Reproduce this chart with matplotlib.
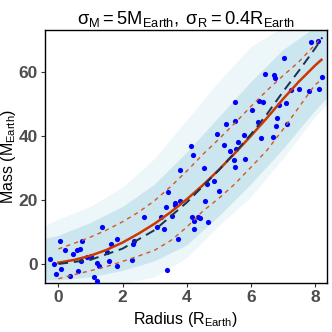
import matplotlib
matplotlib.use("Agg")
import matplotlib.pyplot as plt

plt.rcParams['font.family'] = ['Liberation Sans', 'DejaVu Sans']
plt.rcParams['mathtext.fontset'] = 'custom'
plt.rcParams['mathtext.rm'] = 'Liberation Sans'
plt.rcParams['mathtext.it'] = 'Liberation Sans:italic'
plt.rcParams['mathtext.bf'] = 'Liberation Sans:bold'

# observed planets (radius, mass)
obs_radius = [0.05, 0.74, 1.83, 1.63, 2.35, 2.33, 0.20, 0.57, 0.68, 0.45, 1.51, 0.88,
              1.01, 0.71, -0.27, -0.14, 1.59, 1.19, 1.26, 1.83, 2.28, 0.08, 0.62, -0.08,
              0.37, 1.10, 1.20, 1.37,
              3.78, 4.55, 4.86, 4.63, 5.02, 3.42, 4.56, 3.78, 3.63, 3.64, 3.35, 2.66,
              3.19, 3.55, 4.16, 4.35, 4.41, 4.23, 4.67, 3.07, 3.30, 4.23, 3.74, 3.40,
              5.24, 4.93, 4.14, 5.16, 4.21, 5.35,
              7.87, 8.08, 7.04, 6.43, 6.71, 6.76, 8.23, 7.26, 7.50, 7.80, 8.14, 5.52,
              6.24, 6.37, 6.88, 7.11, 6.03, 5.50, 6.21, 6.82, 6.77, 7.14, 5.80, 6.31,
              6.69, 5.60, 5.54,
              5.46, 5.83, 5.50]
obs_mass = [7.2, 7.2, 7.9, 6.3, 7.1, 6.3, 4.4, 4.3, 4.8, 3.1, 3.6, 2.2,
            2.6, 0.9, 1.6, 0.0, 0.9, 0.3, -0.6, -0.6, 1.3, -1.6, -2.1, -3.0,
            -3.7, -4.2, -5.2, 11.7,
            29.4, 30.1, 26.0, 24.9, 22.7, 22.6, 19.8, 19.8, 19.0, 18.4, 17.7, 14.6,
            14.8, 15.1, 14.6, 14.7, 14.5, 13.3, 13.1, 11.4, 10.9, 10.9, 7.7, -1.9,
            43.8, 40.5, 37.0, 37.2, 34.2, 35.2,
            69.2, 69.6, 64.3, 59.3, 59.1, 58.0, 58.5, 54.4, 54.8, 54.1, 54.6, 50.6,
            51.0, 50.5, 49.8, 50.3, 48.0, 44.7, 44.3, 45.7, 43.1, 43.8, 40.3, 39.3,
            39.7, 38.1, 35.9,
            32.4, 32.8, 30.2]

# simulated cloud envelope (sparse outer and dense inner)
cloud_r = [-0.42, 0, 1, 2, 3, 4, 5, 6, 7, 8, 8.37]
cloud_outer_lo = [-6, -6, -6, -6, -4, 2, 12, 21, 33, 46, 50]
cloud_outer_hi = [12, 14, 18, 24, 33, 45, 57, 68, 74, 74, 74]
cloud_inner_lo = [-5, -5, -4, -2, 1, 6, 15, 25, 36, 48, 52]
cloud_inner_hi = [8, 9, 13, 18, 25, 35, 46, 57, 67, 74, 74]

# true relation
true_r = [0, 1, 2, 3, 4, 5, 5.5, 6, 6.5, 7, 7.5, 8, 8.23]
true_m = [0, 1.3, 4.8, 10.6, 19.2, 29.3, 34.8, 40.5, 46.8, 53.8, 60.4, 67.3, 70.8]

# fitted relation and bands
fit_r = [0, 0.5, 1, 1.5, 2, 2.5, 3, 3.5, 4, 4.5, 5, 5.5, 6, 6.5, 7, 7.5, 8, 8.2]
fit_m = [0.4, 1.3, 2.6, 4.4, 6.7, 9.5, 12.6, 16.2, 20.2, 24.6, 29.4, 34.6, 40.0,
         45.6, 51.5, 57.0, 62.0, 63.8]
fit_lo = [-4.6, -3.3, -2.1, -0.8, 0.8, 2.5, 4.3, 7.3, 11.5, 16.5, 20.5, 25.0, 30.2,
          35.5, 42.0, 49.0, 56.0, 57.5]
fit_hi = [4.7, 6.5, 8.4, 10.6, 13.2, 16.2, 19.8, 24.2, 29.0, 34.2, 39.0, 44.0, 49.2,
          54.2, 58.8, 63.2, 68.5, 70.8]

fig = plt.figure(figsize=(3.32, 3.32), dpi=100)
ax = fig.add_axes([0.1355, 0.1476, 0.849, 0.762])

ax.fill_between(cloud_r, cloud_outer_lo, cloud_outer_hi, color='#add8e6', alpha=0.22, lw=0)
ax.fill_between(cloud_r, cloud_inner_lo, cloud_inner_hi, color='#add8e6', alpha=0.5, lw=0)
ax.scatter(obs_radius, obs_mass, s=14, color='#0000ff', lw=0, zorder=3)
ax.plot(fit_r, fit_lo, color='#d9541e', lw=1.0, ls=(0, (3, 3)), zorder=4)
ax.plot(fit_r, fit_hi, color='#d9541e', lw=1.0, ls=(0, (3, 3)), zorder=4)
ax.plot(fit_r, fit_m, color='#cd3700', lw=1.8, zorder=5)
ax.plot(true_r, true_m, color='#17344f', lw=1.4, ls=(0, (5, 3)), zorder=6)

ax.set_xlim(-0.42, 8.37)
ax.set_ylim(-5.94, 73.1)
ax.set_xticks([0, 2, 4, 6, 8])
ax.set_yticks([0, 20, 40, 60])
ax.tick_params(colors='#333333', labelcolor='#4d4d4d', length=3, width=0.8, pad=2)
for lab in ax.get_xticklabels() + ax.get_yticklabels():
    lab.set_fontweight('bold')
    lab.set_fontsize(12.5)
for sp in ax.spines.values():
    sp.set_color('black')
    sp.set_linewidth(1.0)

ax.set_xlabel(r'Radius ($\mathrm{R_{Earth}}$)', fontsize=11.5)
ax.set_ylabel(r'Mass ($\mathrm{M_{Earth}}$)', fontsize=11.5)
ax.xaxis.set_label_coords(0.5, -0.105)
ax.yaxis.set_label_coords(-0.095, 0.5)
ax.set_title(r'$\mathrm{σ_M = 5M_{Earth},\;σ_R = 0.4R_{Earth}}$', fontsize=13.2, pad=4)

fig.savefig('out.png', dpi=100)
